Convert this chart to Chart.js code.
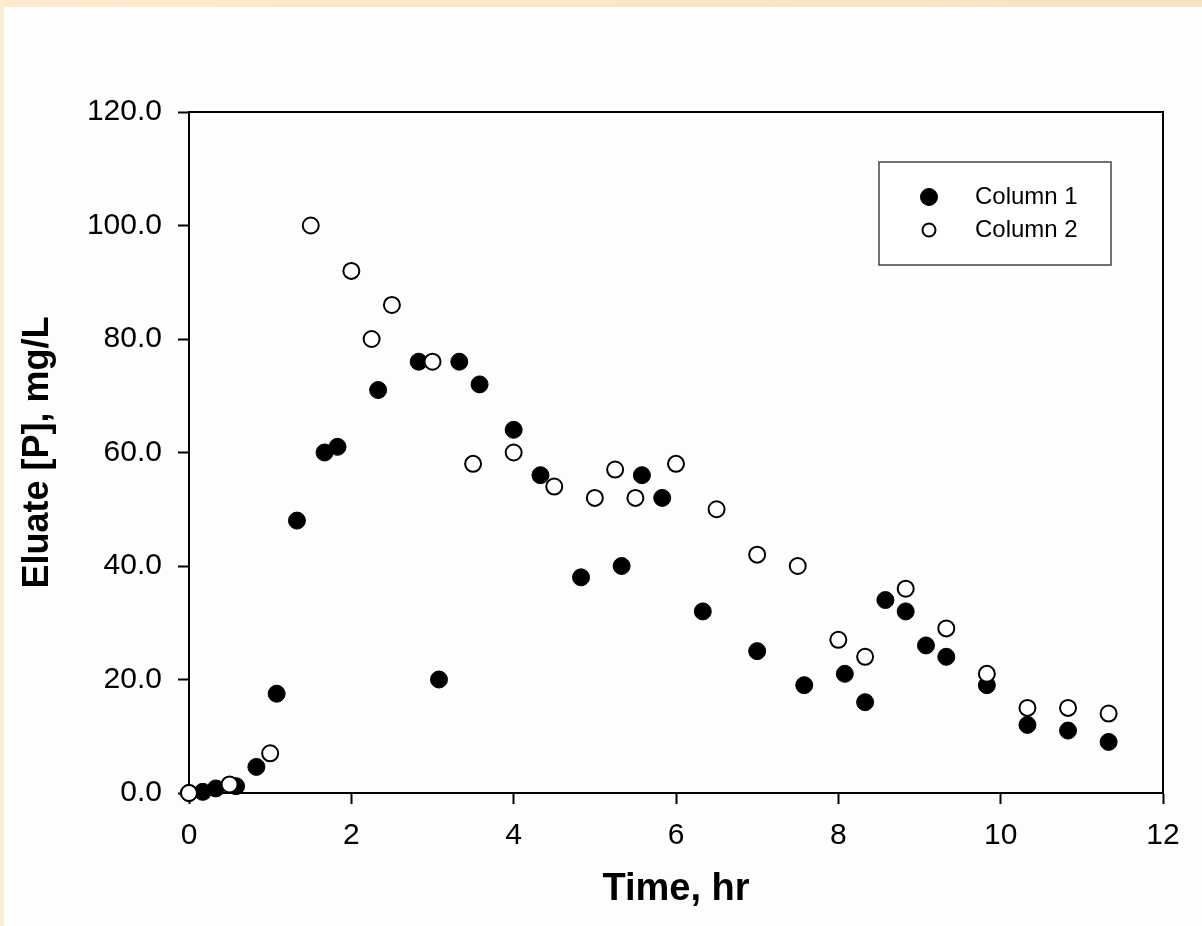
<!DOCTYPE html>
<html lang="en">
<head>
  <meta charset="UTF-8">
  <title>Eluate [P] vs Time</title>
  <script src="https://cdn.jsdelivr.net/npm/chart.js"></script>
  <style>
    body {
      margin: 0;
      background-color: #fdfdfd;
      font-family: 'Liberation Sans', Arial, sans-serif;
    }

    .frame-top {
      position: absolute;
      left: 0;
      top: 0;
      width: 1202px;
      height: 7px;
      background: linear-gradient(to right, #fcebcc, #f5e3c2);
      z-index: 2;
    }

    .frame-left {
      position: absolute;
      left: 0;
      top: 0;
      width: 4px;
      height: 926px;
      background-color: #fcecd0;
      z-index: 2;
    }

    .chart-wrapper {
      position: absolute;
      left: 0;
      top: 0;
      width: 1202px;
      height: 926px;
    }
  </style>
</head>
<body>
  <div class="frame-top"></div>
  <div class="frame-left"></div>
  <div class="chart-wrapper">
    <canvas id="eluateChart"></canvas>
  </div>

  <script>
    // Column 1 (filled markers)
    const time1 = [0, 0.17, 0.33, 0.58, 0.83, 1.08, 1.33, 1.67, 1.83, 2.33, 2.83, 3.08, 3.33, 3.58,
      4.0, 4.33, 4.83, 5.33, 5.58, 5.83, 6.33, 7.0, 7.58, 8.08, 8.33, 8.58, 8.83, 9.08, 9.33,
      9.83, 10.33, 10.83, 11.33];
    const conc1 = [0, 0.2, 0.8, 1.2, 4.6, 17.5, 48, 60, 61, 71, 76, 20, 76, 72,
      64, 56, 38, 40, 56, 52, 32, 25, 19, 21, 16, 34, 32, 26, 24,
      19, 12, 11, 9];

    // Column 2 (open markers)
    const time2 = [0, 0.5, 1.0, 1.5, 2.0, 2.25, 2.5, 3.0, 3.5, 4.0, 4.5, 5.0, 5.25, 5.5, 6.0,
      6.5, 7.0, 7.5, 8.0, 8.33, 8.83, 9.33, 9.83, 10.33, 10.83, 11.33];
    const conc2 = [0, 1.5, 7, 100, 92, 80, 86, 76, 58, 60, 54, 52, 57, 52, 58,
      50, 42, 40, 27, 24, 36, 29, 21, 15, 15, 14];

    const seriesLabels = ['Column 1', 'Column 2'];

    const xTicks = [0, 2, 4, 6, 8, 10, 12];
    const yTicks = [0, 20, 40, 60, 80, 100, 120];

    function toPoints(xs, ys) {
      return xs.map((x, i) => ({ x: x, y: ys[i] }));
    }

    // Top and right frame lines
    const frameBox = {
      id: 'frameBox',
      beforeDatasetsDraw(chart) {
        const { ctx, chartArea } = chart;
        ctx.save();
        ctx.strokeStyle = '#000';
        ctx.lineWidth = 2;
        ctx.beginPath();
        ctx.moveTo(chartArea.left, chartArea.top);
        ctx.lineTo(chartArea.right, chartArea.top);
        ctx.lineTo(chartArea.right, chartArea.bottom);
        ctx.stroke();
        ctx.restore();
      }
    };

    // Boxed legend inside the plot, like the original
    const boxLegend = {
      id: 'boxLegend',
      afterDraw(chart) {
        const ctx = chart.ctx;
        ctx.save();
        ctx.fillStyle = '#ffffff';
        ctx.fillRect(879, 162, 232, 103);
        ctx.strokeStyle = '#444';
        ctx.lineWidth = 1.5;
        ctx.strokeRect(879, 162, 232, 103);

        ctx.font = '24px "Liberation Sans", Arial, sans-serif';
        ctx.textBaseline = 'middle';
        ctx.textAlign = 'left';
        chart.data.datasets.forEach((ds, i) => {
          const cy = 197 + i * 33;
          ctx.beginPath();
          ctx.arc(929, cy, i === 0 ? 8.5 : 6.5, 0, Math.PI * 2);
          ctx.fillStyle = ds.backgroundColor;
          ctx.fill();
          ctx.lineWidth = ds.borderWidth;
          ctx.strokeStyle = ds.borderColor;
          ctx.stroke();
          ctx.fillStyle = '#000';
          ctx.fillText(ds.label, 975, cy);
        });
        ctx.restore();
      }
    };

    const ctx = document.getElementById('eluateChart').getContext('2d');
    new Chart(ctx, {
      type: 'scatter',
      data: {
        datasets: [
          {
            label: seriesLabels[0],
            data: toPoints(time1, conc1),
            backgroundColor: '#000000',
            borderColor: '#000000',
            borderWidth: 1,
            pointRadius: 8.5,
            clip: false,
            order: 1
          },
          {
            label: seriesLabels[1],
            data: toPoints(time2, conc2),
            backgroundColor: '#ffffff',
            borderColor: '#000000',
            borderWidth: 2,
            pointRadius: 8,
            clip: false,
            order: 0
          }
        ]
      },
      options: {
        responsive: true,
        maintainAspectRatio: false,
        animation: false,
        events: [],
        layout: {
          padding: { top: 112, right: 39, bottom: 0, left: 0 }
        },
        scales: {
          x: {
            type: 'linear',
            min: 0,
            max: 12,
            afterBuildTicks: (scale) => {
              scale.ticks = xTicks.map(v => ({ value: v }));
            },
            afterFit: (scale) => { scale.height = 133; },
            border: { display: true, color: '#000', width: 2 },
            grid: {
              drawOnChartArea: false,
              drawTicks: true,
              tickLength: 11,
              tickWidth: 2,
              tickColor: '#000'
            },
            ticks: {
              color: '#000',
              padding: 14,
              maxRotation: 0,
              font: { family: '"Liberation Sans", Arial, sans-serif', size: 30 }
            },
            title: {
              display: true,
              text: 'Time, hr',
              color: '#000',
              padding: { top: 0, bottom: 14 },
              font: { family: '"Liberation Sans", Arial, sans-serif', size: 38, weight: 'bold' }
            }
          },
          y: {
            type: 'linear',
            min: 0,
            max: 120,
            afterBuildTicks: (scale) => {
              scale.ticks = yTicks.map(v => ({ value: v }));
            },
            afterFit: (scale) => { scale.width = 189; },
            border: { display: true, color: '#000', width: 2 },
            grid: {
              drawOnChartArea: false,
              drawTicks: true,
              tickLength: 11,
              tickWidth: 2,
              tickColor: '#000'
            },
            ticks: {
              color: '#000',
              padding: 16,
              font: { family: '"Liberation Sans", Arial, sans-serif', size: 30 },
              callback: (v) => Number(v).toFixed(1)
            },
            title: {
              display: true,
              text: 'Eluate [P], mg/L',
              color: '#000',
              padding: { top: 16, bottom: 0 },
              font: { family: '"Liberation Sans", Arial, sans-serif', size: 36, weight: 'bold' }
            }
          }
        },
        plugins: {
          legend: { display: false },
          tooltip: { enabled: false }
        }
      },
      plugins: [frameBox, boxLegend]
    });
  </script>
</body>
</html>
